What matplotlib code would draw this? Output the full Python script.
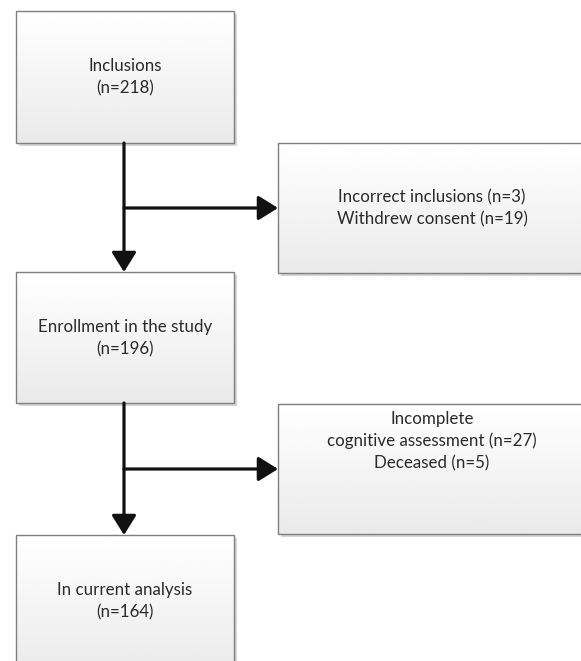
import matplotlib.pyplot as plt
import numpy as np
from matplotlib.patches import Rectangle

# Flowchart content
main_labels = ['Inclusions', 'Enrollment in the study', 'In current analysis']
main_counts = [218, 196, 164]
excl_labels = [['Incorrect inclusions (n=3)', 'Withdrew consent (n=19)'],
               ['Incomplete', 'cognitive assessment (n=27)', 'Deceased (n=5)']]

W, H = 581, 661
fig = plt.figure(figsize=(W / 100, H / 100), dpi=100)
ax = fig.add_axes([0, 0, 1, 1])
ax.set_xlim(0, W)
ax.set_ylim(H, 0)
ax.axis('off')

plt.rcParams['font.family'] = ['Lato', 'DejaVu Sans']

grad = np.linspace(1.0, 0.915, 64).reshape(-1, 1)


def box(x0, y0, x1, y1):
    # shadow
    ax.add_patch(Rectangle((x0 + 3, y0 + 3), x1 - x0, y1 - y0,
                           facecolor='#d6d6d6', edgecolor='none', zorder=1))
    ax.imshow(grad, cmap='gray', vmin=0, vmax=1, aspect='auto',
              extent=(x0, x1, y1, y0), zorder=2, interpolation='bilinear')
    ax.add_patch(Rectangle((x0, y0), x1 - x0, y1 - y0, facecolor='none',
                           edgecolor='#7f7f7f', lw=1.0, zorder=3))


def arrow(x0, y0, x1, y1):
    ax.annotate('', xy=(x1, y1), xytext=(x0, y0),
                arrowprops=dict(arrowstyle='-|>,head_length=12,head_width=7.5',
                                mutation_scale=1, lw=2.3, color='#111111',
                                shrinkA=0, shrinkB=0),
                zorder=5)


main_boxes = [(16, 11, 234, 143), (16, 272, 234, 403), (16, 535, 234, 675)]
excl_boxes = [(278, 143, 586, 273), (278, 404, 586, 534)]
main_text_y = [77, 338, 601]
excl_text_y = [208, 441]

for (x0, y0, x1, y1), lab, n, ty in zip(main_boxes, main_labels, main_counts, main_text_y):
    box(x0, y0, x1, y1)
    ax.text((x0 + x1) / 2, ty, f'{lab}\n(n={n})', ha='center', va='center',
            fontsize=12.2, linespacing=1.45, color='#2a2a2a', zorder=6)

for (x0, y0, x1, y1), lines, ty in zip(excl_boxes, excl_labels, excl_text_y):
    box(x0, y0, x1, y1)
    ax.text((x0 + x1) / 2, ty, '\n'.join(lines), ha='center', va='center',
            fontsize=12.2, linespacing=1.45, color='#2a2a2a', zorder=6)

# connectors
cx = 124
for i in range(2):
    top = main_boxes[i][3]
    bot = main_boxes[i + 1][1]
    arrow(cx, top, cx, bot)
    by = (excl_boxes[i][1] + excl_boxes[i][3]) / 2
    arrow(cx, by, excl_boxes[i][0], by)

fig.savefig('out.png', dpi=100)
